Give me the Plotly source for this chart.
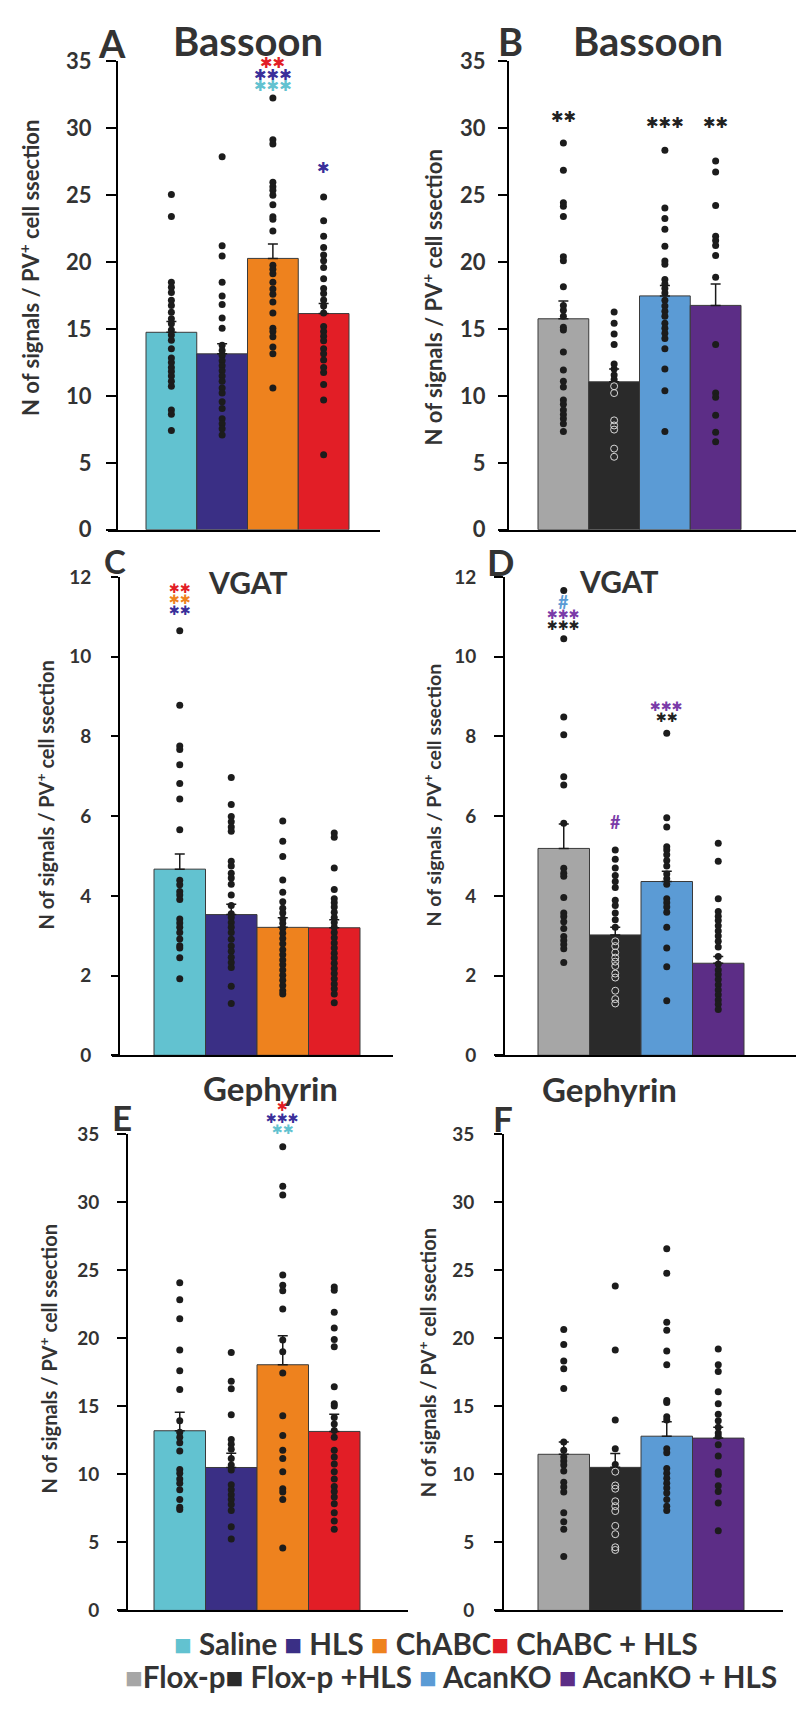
import plotly.graph_objects as go

W, H = 796, 1711
FONT = "Lato"
TXT = "#333333"

# ---------------- data ----------------
groups_left = ["Saline", "HLS", "ChABC", "ChABC + HLS"]
groups_right = ["Flox-p", "Flox-p +HLS", "AcanKO", "AcanKO + HLS"]

col_left = ["#62C2D0", "#3A2F85", "#EE821E", "#E21E26"]
col_right = ["#A6A6A6", "#2A2A2A", "#5B9BD5", "#5C2D86"]
star_red, star_navy, star_cyan, star_orange = "#E21E26", "#3A2F9A", "#62C2D0", "#EE821E"
star_purple, star_black, star_lblue = "#7A3BA8", "#222222", "#5B9BD5"

# Panel A  Bassoon
A_mean = [14.75, 13.14, 20.27, 16.15]
A_sem = [0.81, 0.76, 1.07, 0.75]
A_pts = [
    [25.04, 23.41, 18.49, 18.11, 17.73, 17.14, 16.76, 16.25, 15.76, 15.38, 14.92, 14.54, 14.16,
     13.52, 12.83, 12.50, 12.12, 11.82, 11.48, 11.10, 10.72, 8.94, 8.63, 7.41],
    [27.87, 21.22, 20.45, 18.49, 17.47, 16.83, 15.82, 15.05, 13.78, 13.39, 13.01, 12.63, 12.25,
     11.87, 11.48, 11.10, 10.59, 10.21, 9.57, 9.06, 8.30, 7.92, 7.54, 7.08],
    [32.25, 29.14, 28.81, 25.96, 25.62, 25.37, 24.99, 24.27, 23.38, 23.20, 22.31, 19.76, 19.46,
     19.13, 18.49, 17.98, 17.60, 17.01, 16.20, 15.05, 14.80, 14.41, 13.65, 13.14, 10.59],
    [24.86, 23.08, 21.93, 21.09, 20.53, 20.10, 19.59, 18.75, 18.03, 17.65, 17.17, 16.71, 16.20,
     15.18, 14.80, 14.46, 14.11, 13.52, 13.14, 12.68, 12.12, 11.74, 10.85, 9.70, 5.60],
]
A_star_x = [2, 2, 2, 3]
A_star_y = [34.9, 34.0, 33.15, 27.0]
A_star_txt = ["**", "***", "***", "*"]
A_star_col = [star_red, star_navy, star_cyan, star_navy]

# Panel B  Bassoon
B_mean = [15.76, 11.05, 17.47, 16.76]
B_sem = [1.33, 0.95, 0.77, 1.60]
B_pts = [
    [28.89, 26.85, 24.43, 24.17, 23.41, 20.40, 20.10, 18.16, 16.76, 16.40, 15.94, 15.13, 14.92,
     13.27, 11.94, 11.10, 10.67, 9.70, 9.37, 8.94, 8.61, 8.30, 7.92, 7.33],
    [16.27, 15.43, 14.62, 13.83, 12.38, 12.00, 11.56, 11.23, 10.72, 10.21, 8.17, 7.79, 7.48,
     6.06, 5.45],
    [28.35, 24.04, 23.25, 22.44, 21.17, 20.07, 19.84, 18.69, 18.36, 18.03, 17.68, 17.14, 16.71,
     16.32, 15.94, 15.43, 15.05, 14.67, 14.29, 13.52, 12.00, 10.39, 7.33],
    [27.54, 26.72, 24.22, 21.93, 21.60, 21.24, 20.48, 18.87, 13.83, 10.21, 9.90, 8.55, 7.28, 6.57],
]
B_star_x = [0, 2, 3]
B_star_y = [30.85, 30.4, 30.4]
B_star_txt = ["**", "***", "**"]
B_star_col = [star_black, star_black, star_black]

# Panel C  VGAT
C_mean = [4.67, 3.53, 3.21, 3.20]
C_sem = [0.38, 0.26, 0.24, 0.20]
C_pts = [
    [10.65, 8.78, 7.76, 7.67, 7.29, 6.82, 6.43, 5.66, 4.39, 4.28, 4.11, 4.02, 3.91, 3.42, 3.32,
     3.21, 3.08, 2.92, 2.75, 2.69, 2.45, 1.92],
    [6.97, 6.29, 5.99, 5.86, 5.73, 5.62, 4.87, 4.75, 4.57, 4.45, 4.29, 4.02, 3.76, 3.55, 3.46,
     3.33, 3.21, 3.08, 2.91, 2.74, 2.61, 2.46, 2.33, 2.20, 1.73, 1.30],
    [5.88, 5.37, 4.99, 4.40, 4.09, 3.85, 3.69, 3.57, 3.42, 3.31, 3.19, 3.06, 2.93, 2.80, 2.65,
     2.52, 2.39, 2.27, 2.14, 2.01, 1.88, 1.75, 1.62, 1.54],
    [5.58, 5.47, 4.70, 4.16, 3.93, 3.83, 3.72, 3.59, 3.46, 3.33, 3.21, 3.08, 2.95, 2.82, 2.69,
     2.56, 2.44, 2.31, 2.18, 2.05, 1.92, 1.79, 1.67, 1.54, 1.32],
]
C_star_x = [0, 0, 0]
C_star_y = [11.70, 11.44, 11.15]
C_star_txt = ["**", "**", "**"]
C_star_col = [star_red, star_orange, star_navy]

# Panel D  VGAT
D_mean = [5.19, 3.02, 4.36, 2.31]
D_sem = [0.61, 0.19, 0.26, 0.17]
D_pts = [
    [11.66, 10.45, 8.49, 8.04, 6.99, 6.78, 5.82, 4.69, 4.57, 4.49, 3.96, 3.57, 3.48, 3.35, 3.18,
     2.98, 2.88, 2.78, 2.67, 2.33],
    [5.15, 4.92, 4.70, 4.51, 4.36, 4.21, 3.89, 3.76, 3.57, 3.40, 3.21, 2.86, 2.74, 2.58, 2.45,
     2.35, 2.24, 2.05, 1.95, 1.62, 1.41, 1.30],
    [8.08, 5.96, 5.73, 5.23, 5.15, 5.03, 4.89, 4.75, 4.55, 4.43, 4.29, 3.93, 3.83, 3.72, 3.59,
     3.21, 2.69, 2.22, 1.37],
    [5.32, 4.87, 3.93, 3.61, 3.49, 3.38, 3.25, 3.12, 2.99, 2.86, 2.72, 2.48, 2.29, 2.14, 2.03,
     1.90, 1.77, 1.64, 1.52, 1.39, 1.28, 1.15],
]
D_star_x = [0, 0, 0, 2, 2, 1]
D_star_y = [11.38, 11.05, 10.78, 8.74, 8.48, 5.86]
D_star_txt = ["#", "***", "***", "***", "**", "#"]
D_star_col = [star_lblue, star_purple, star_black, star_purple, star_black, star_purple]

# Panel E  Gephyrin
E_mean = [13.2, 10.5, 18.05, 13.15]
E_sem = [1.35, 1.04, 2.13, 1.26]
E_pts = [
    [24.08, 22.83, 21.43, 19.13, 17.61, 16.23, 13.94, 13.09, 12.73, 12.32, 11.71, 10.36, 10.07,
     9.66, 9.35, 8.87, 8.14, 7.58, 7.42],
    [18.94, 16.84, 16.28, 14.37, 12.56, 12.20, 11.84, 11.16, 10.68, 10.31, 9.23, 8.86, 8.50,
     8.14, 7.78, 7.34, 6.14, 5.24],
    [34.06, 31.16, 30.53, 24.64, 23.89, 23.48, 22.15, 19.86, 19.01, 17.44, 14.30, 12.85, 11.76,
     11.16, 10.19, 8.94, 8.70, 8.14, 4.59],
    [23.77, 23.53, 21.91, 20.75, 19.90, 19.37, 16.43, 15.19, 15.02, 14.18, 13.70, 13.21, 12.73,
     11.76, 11.28, 10.75, 10.19, 9.66, 9.11, 8.74, 8.33, 7.83, 7.17, 6.57, 5.97],
]
E_star_x = [2, 2, 2]
E_star_y = [37.0, 36.15, 35.35]
E_star_txt = ["*", "***", "**"]
E_star_col = [star_red, star_navy, star_cyan]

# Panel F  Gephyrin
F_mean = [11.47, 10.51, 12.80, 12.66]
F_sem = [0.90, 1.01, 1.06, 0.79]
F_pts = [
    [20.63, 19.54, 18.33, 17.75, 16.30, 12.37, 11.76, 11.28, 10.97, 10.68, 10.24, 9.42, 9.06,
     8.70, 7.17, 6.52, 5.97, 3.96],
    [23.84, 19.13, 13.99, 11.88, 10.72, 10.19, 9.18, 8.94, 8.02, 7.66, 7.30, 6.21, 5.60, 4.64, 4.44],
    [26.57, 24.78, 21.18, 20.58, 19.06, 18.04, 15.43, 15.27, 14.23, 13.99, 11.88, 11.59, 10.43,
     10.07, 9.71, 9.35, 8.99, 8.62, 8.14, 7.66, 7.34],
    [19.20, 18.04, 17.56, 16.06, 15.19, 14.42, 13.94, 13.45, 13.04, 12.80, 12.17, 11.35, 10.19,
     10.00, 9.15, 8.74, 7.90, 5.85],
]
F_star_x, F_star_y, F_star_txt, F_star_col = [], [], [], []

titles = ["Bassoon", "Bassoon", "VGAT", "VGAT", "Gephyrin", "Gephyrin"]
letters = ["A", "B", "C", "D", "E", "F"]
ymax = [35, 35, 12, 12, 35, 35]
dticks = [5, 5, 2, 2, 5, 5]
ytitle = "N of signals / PV<sup>+</sup> cell ssection"

legend_row1 = list(zip(groups_left, col_left))
legend_row2 = list(zip(groups_right, col_right))

# ---------------- geometry (pixels) ----------------
geo = [
    dict(xl=108, xr=380, ax=117, bl=146, br=349, yt=48, yb=524, tf=22, tl=10, so=10),
    dict(xl=499, xr=796, ax=508, bl=538, br=741, yt=48, yb=524, tf=22, tl=9, so=8),
    dict(xl=112, xr=393, ax=119, bl=154, br=360, yt=572, yb=1058, tf=19, tl=7, so=16),
    dict(xl=495, xr=796, ax=504, bl=538, br=744, yt=572, yb=1058, tf=19, tl=9, so=14),
    dict(xl=118, xr=408, ax=127, bl=154, br=360, yt=1138, yb=1622, tf=19, tl=9, so=14),
    dict(xl=495, xr=783, ax=503, bl=538, br=744, yt=1138, yb=1622, tf=19, tl=8, so=16),
]
title_pos = [(248, 27, 40), (648, 27, 40), (247, 577, 30), (618, 576, 30), (270, 1091, 33), (609, 1092, 33)]
letter_pos = [(112, 29, 38), (510, 27, 38), (115, 556, 33), (500, 557, 36), (122, 1121, 35), (503, 1122, 35)]
ytitle_pos = [(30, 258, 22), (432, 288, 22), (45, 794, 20), (432, 794, 19.5), (48, 1367, 20), (427, 1371, 20)]
star_size = [15, 15, 13, 13, 13, 13]

panels = [
    (A_mean, A_sem, A_pts, col_left, (A_star_x, A_star_y, A_star_txt, A_star_col)),
    (B_mean, B_sem, B_pts, col_right, (B_star_x, B_star_y, B_star_txt, B_star_col)),
    (C_mean, C_sem, C_pts, col_left, (C_star_x, C_star_y, C_star_txt, C_star_col)),
    (D_mean, D_sem, D_pts, col_right, (D_star_x, D_star_y, D_star_txt, D_star_col)),
    (E_mean, E_sem, E_pts, col_left, (E_star_x, E_star_y, E_star_txt, E_star_col)),
    (F_mean, F_sem, F_pts, col_right, (F_star_x, F_star_y, F_star_txt, F_star_col)),
]

fig = go.Figure()
layout = dict(
    width=W, height=H, margin=dict(l=0, r=0, t=0, b=0),
    paper_bgcolor="white", plot_bgcolor="rgba(0,0,0,0)",
    showlegend=False, font=dict(family=FONT, color=TXT),
)
annotations = []

def px(x):
    return x / W

def py(y):
    return 1 - y / H

for i, (mean, sem, pts, cols, stars) in enumerate(panels):
    g = geo[i]
    n = i + 1
    xa = "x" if n == 1 else f"x{n}"
    ya = "y" if n == 1 else f"y{n}"
    wbar = (g["br"] - g["bl"]) / 4.0
    xr0 = -0.5 - (g["bl"] - g["xl"]) / wbar
    xr1 = 3.5 + (g["xr"] - g["br"]) / wbar
    layout["xaxis" if n == 1 else f"xaxis{n}"] = dict(
        domain=[px(g["xl"]), px(g["xr"])], range=[xr0, xr1], anchor=ya,
        showline=True, linecolor="black", linewidth=2, showticklabels=False,
        ticks="", showgrid=False, zeroline=False, fixedrange=True,
    )
    layout["yaxis" if n == 1 else f"yaxis{n}"] = dict(
        domain=[py(g["yb"]), py(g["yt"])], range=[0, ymax[i]], anchor="free",
        position=px(g["ax"]),
        showline=True, linecolor="black", linewidth=2, ticks="outside",
        ticklen=g["tl"], tickwidth=1.5, tickcolor="black", dtick=dticks[i], tick0=0,
        showgrid=False, zeroline=False,
        tickfont=dict(family=FONT, size=g["tf"], color=TXT, weight="bold"),
        ticklabelstandoff=g["so"],
    )
    fig.add_trace(go.Bar(
        x=[0, 1, 2, 3], y=mean, width=1, marker=dict(color=cols, line=dict(color="#3a3a3a", width=1)),
        error_y=dict(type="data", array=sem, arrayminus=[0, 0, 0, 0], symmetric=False,
                     color="#1a1a1a", thickness=1.5, width=5),
        xaxis=xa, yaxis=ya, hoverinfo="skip",
    ))
    for k in range(4):
        vals = pts[k]
        dark_bar = (cols is col_right and k == 1)
        if dark_bar:
            filled = [v for v in vals if v > mean[k]]
            hollow = [v for v in vals if v <= mean[k]]
        else:
            filled, hollow = vals, []
        if filled:
            fig.add_trace(go.Scatter(
                x=[k] * len(filled), y=filled, mode="markers", xaxis=xa, yaxis=ya,
                marker=dict(color="#1c1c1c", size=7), hoverinfo="skip", cliponaxis=False))
        if hollow:
            fig.add_trace(go.Scatter(
                x=[k] * len(hollow), y=hollow, mode="markers", xaxis=xa, yaxis=ya,
                marker=dict(symbol="circle-open", color="#d8d8d8", size=7, line=dict(width=1)),
                hoverinfo="skip", cliponaxis=False))
    # significance marks: x in data units, y on the axis' own scale (domain fraction)
    sx, sy, st, sc = stars
    for x, y, t, c in zip(sx, sy, st, sc):
        if t.startswith("*"):
            txt = t.replace("*", "\u2731")
            f = dict(family="DejaVu Sans", size=star_size[i], color=c)
        else:
            txt = t
            f = dict(family=FONT, size=18, color=c, weight="bold")
        annotations.append(dict(text=txt, x=x, y=y / ymax[i], xref=xa, yref=f"{ya} domain",
                                xanchor="center", yanchor="middle", showarrow=False, font=f))

    tx, ty, ts = title_pos[i]
    annotations.append(dict(text=titles[i], x=px(tx), y=py(ty), xref="paper", yref="paper",
                            xanchor="center", yanchor="middle", showarrow=False,
                            font=dict(family=FONT, size=ts, color=TXT, weight="bold")))
    lx, ly, ls = letter_pos[i]
    annotations.append(dict(text=letters[i], x=px(lx), y=py(ly), xref="paper", yref="paper",
                            xanchor="center", yanchor="middle", showarrow=False,
                            font=dict(family=FONT, size=ls, color=TXT, weight="bold")))
    yx, yy, ys = ytitle_pos[i]
    annotations.append(dict(text=ytitle, x=px(yx), y=py(yy), xref="paper", yref="paper",
                            xanchor="center", yanchor="middle", showarrow=False, textangle=-90,
                            font=dict(family=FONT, size=ys, color=TXT, weight="bold")))

def legend_text(rows, seps):
    out = ""
    for (name, col), sep in zip(rows, seps):
        out += f"<span style='color:{col}'>\u25A0</span>{sep[0]}{name}{sep[1]}"
    return out

row1 = legend_text(legend_row1, [(" ", " "), (" ", " "), (" ", ""), (" ", "")])
row2 = legend_text(legend_row2, [("", ""), (" ", " "), (" ", " "), (" ", "")])
annotations.append(dict(text=row1, x=px(436), y=py(1656), xref="paper", yref="paper",
                        xanchor="center", yanchor="middle", showarrow=False,
                        font=dict(family=FONT, size=29.5, color=TXT, weight="bold")))
annotations.append(dict(text=row2, x=px(451), y=py(1689), xref="paper", yref="paper",
                        xanchor="center", yanchor="middle", showarrow=False,
                        font=dict(family=FONT, size=29.5, color=TXT, weight="bold")))

layout["annotations"] = annotations
fig.update_layout(**layout)
fig.write_html("out.html")
